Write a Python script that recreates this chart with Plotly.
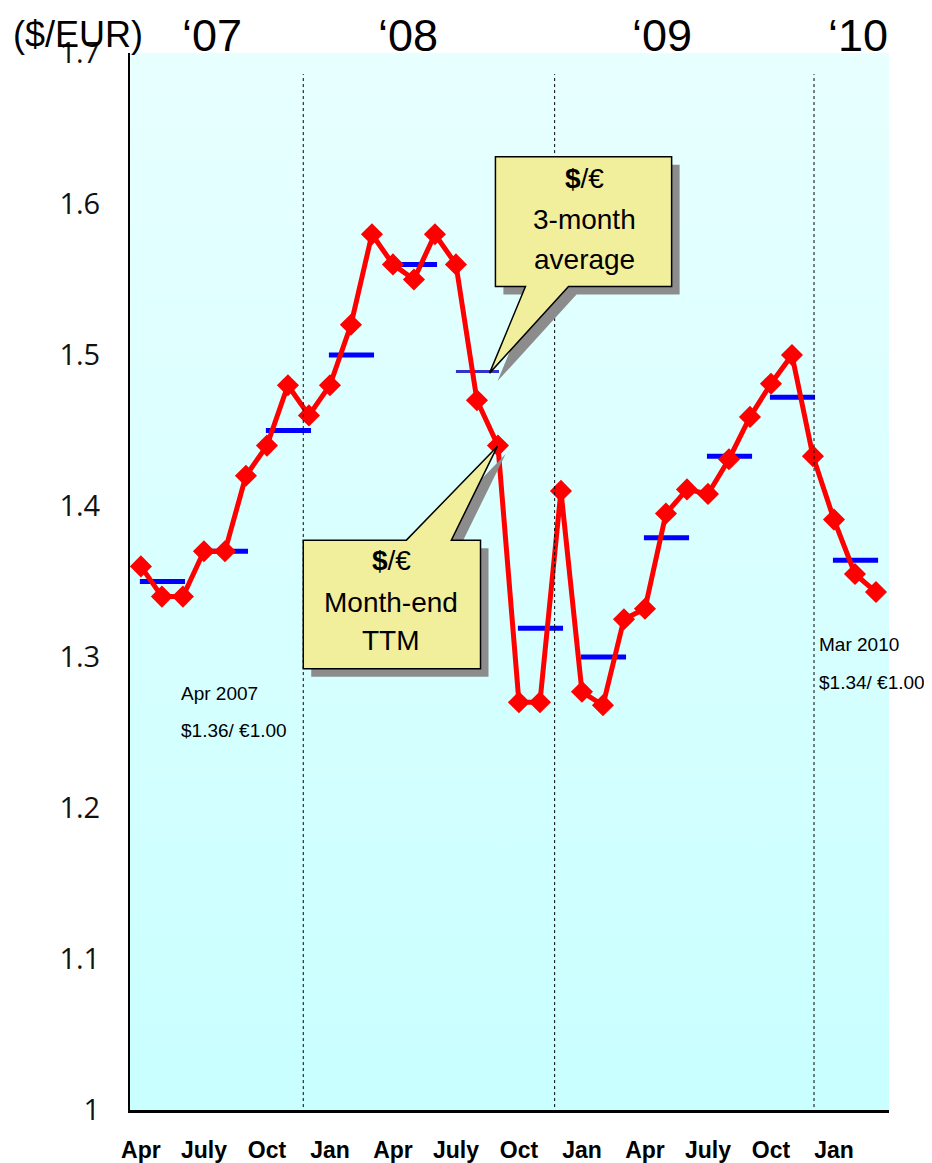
"""
USD/EUR 月末汇率与三个月平均 (Apr 2007 - Mar 2010)
"""

import plotly.graph_objects as go

# 月份（Apr 2007 起，共 36 个月）
months = ['Apr 07', 'May 07', 'Jun 07', 'Jul 07', 'Aug 07', 'Sep 07', 'Oct 07', 'Nov 07', 'Dec 07',
          'Jan 08', 'Feb 08', 'Mar 08', 'Apr 08', 'May 08', 'Jun 08', 'Jul 08', 'Aug 08', 'Sep 08',
          'Oct 08', 'Nov 08', 'Dec 08', 'Jan 09', 'Feb 09', 'Mar 09', 'Apr 09', 'May 09', 'Jun 09',
          'Jul 09', 'Aug 09', 'Sep 09', 'Oct 09', 'Nov 09', 'Dec 09', 'Jan 10', 'Feb 10', 'Mar 10']

# 月末汇率 ($/€)
month_end = [1.36, 1.34, 1.34, 1.37, 1.37, 1.42, 1.44, 1.48, 1.46,
             1.48, 1.52, 1.58, 1.56, 1.55, 1.58, 1.56, 1.47, 1.44,
             1.27, 1.27, 1.41, 1.277, 1.268, 1.325, 1.332, 1.395, 1.411,
             1.408, 1.431, 1.459, 1.481, 1.500, 1.433, 1.391, 1.355, 1.343]

# 三个月平均（每季度一个值）
avg_3m = [1.35, 1.37, 1.45, 1.50, 1.56, 1.489, 1.319, 1.30, 1.379, 1.433, 1.472, 1.364]

# x 轴刻度
tick_idx = [0, 3, 6, 9, 12, 15, 18, 21, 24, 27, 30, 33]
tick_text = ['Apr', 'July', 'Oct', 'Jan', 'Apr', 'July', 'Oct', 'Jan', 'Apr', 'July', 'Oct', 'Jan']

# 年份标签
years = ["‘07", "‘08", "‘09", "‘10"]
year_pos = [3.4, 12.7, 24.8, 34.15]
year_lines = [7.73, 19.7, 32.05]

X_RANGE = [-0.52, 35.62]
Y_RANGE = [1.0, 1.7]

SANS = 'Liberation Sans, Arial, sans-serif'

fig = go.Figure()

# 背景渐变
fig.add_trace(go.Scatter(
    x=[X_RANGE[0], X_RANGE[1], X_RANGE[1], X_RANGE[0], X_RANGE[0]],
    y=[Y_RANGE[0], Y_RANGE[0], Y_RANGE[1], Y_RANGE[1], Y_RANGE[0]],
    mode='lines', fill='toself', line_width=0,
    fillgradient=dict(type='vertical', start=Y_RANGE[0], stop=Y_RANGE[1],
                      colorscale=[[0, '#c9ffff'], [1, '#e8ffff']]),
    hoverinfo='skip', showlegend=False
))

# 三个月平均（蓝色横线）
bx, by = [], []
for k, v in enumerate(avg_3m):
    if k == 5:
        continue
    bx += [3 * k - 0.05, 3 * k + 2.1, None]
    by += [v, v, None]
fig.add_trace(go.Scatter(x=bx, y=by, mode='lines', line=dict(color='#0000ff', width=5),
                         hoverinfo='skip', showlegend=False))
fig.add_trace(go.Scatter(x=[15, 17.05], y=[avg_3m[5], avg_3m[5]], mode='lines',
                         line=dict(color='#3333cc', width=3), hoverinfo='skip', showlegend=False))

# 月末汇率
fig.add_trace(go.Scatter(
    x=list(range(len(months))), y=month_end, text=months,
    mode='lines+markers',
    line=dict(color='#ff0000', width=5),
    marker=dict(symbol='diamond', size=17, color='#ff0000'),
    showlegend=False
))

shapes = []
for xv in year_lines:
    shapes.append(dict(type='line', xref='x', yref='y', x0=xv, x1=xv, y0=0.994, y1=1.686,
                       line=dict(color='black', width=1, dash='dot'), layer='above'))


def poly(pts, dx=0.0, dy=0.0):
    return 'M ' + ' L '.join(f'{x + dx},{y + dy}' for x, y in pts) + ' Z'


# 标注框（数据坐标）
callout1 = [(16.88, 1.6313), (25.27, 1.6313), (25.27, 1.5453), (20.36, 1.5453),
            (16.6, 1.488), (18.31, 1.5453), (16.88, 1.5453)]
callout2 = [(7.73, 1.3774), (12.64, 1.3774), (16.98, 1.4396), (14.78, 1.3774),
            (16.17, 1.3774), (16.17, 1.2922), (7.73, 1.2922)]
SDX, SDY = 0.38, -0.0053
for pts in (callout1, callout2):
    shapes.append(dict(type='path', xref='x', yref='y', path=poly(pts, SDX, SDY),
                       fillcolor='#8c8c8c', line=dict(width=0), layer='above'))
    shapes.append(dict(type='path', xref='x', yref='y', path=poly(pts),
                       fillcolor='#f2ef9c', line=dict(color='black', width=1.5), layer='above'))

annotations = []
for t, xv in zip(years, year_pos):
    annotations.append(dict(text=t, x=xv, y=1.0, xref='x', yref='paper', yanchor='middle',
                            yshift=18, showarrow=False, font=dict(family=SANS, size=45, color='black')))
annotations.append(dict(text='($/EUR)', x=0.0, y=1.0, xref='paper', yref='paper', xanchor='left',
                        yanchor='middle', xshift=-119, yshift=19, showarrow=False,
                        font=dict(family=SANS, size=36, color='black')))

callout_font = dict(family=SANS, size=28, color='black')
for txt, xv, yv in [('<b>$</b>/€', 21.13, 1.6167), ('3-month', 21.13, 1.5896), ('average', 21.13, 1.5632),
                    ('<b>$</b>/€', 11.92, 1.3636), ('Month-end', 11.92, 1.3358), ('TTM', 11.92, 1.3107)]:
    annotations.append(dict(text=txt, x=xv, y=yv, xref='x', yref='y', showarrow=False, font=callout_font))

small_font = dict(family=SANS, size=19, color='black')
for txt, xv, yv in [('Apr 2007', 1.81, 1.2757), ('$1.36/ €1.00', 1.81, 1.2512),
                    ('Mar 2010', 32.2, 1.308), ('$1.34/ €1.00', 32.2, 1.283)]:
    annotations.append(dict(text=txt, x=xv, y=yv, xref='x', yref='y', xanchor='left',
                            showarrow=False, font=small_font))

# 页面自带 8px 边距：左/上各偏移 8px
fig.update_layout(
    width=916, height=1163,
    margin=dict(l=122, r=35, t=45, b=61, autoexpand=False),
    paper_bgcolor='white', plot_bgcolor='white',
    shapes=shapes, annotations=annotations,
    xaxis=dict(range=X_RANGE, tickvals=tick_idx, ticktext=tick_text, showgrid=False, zeroline=False,
               showline=True, linecolor='black', linewidth=3, ticks='', ticklabelstandoff=17,
               tickfont=dict(family=SANS, size=23, color='black', weight='bold'),
               tickangle=0, automargin=False),
    yaxis=dict(range=Y_RANGE, tickvals=[1, 1.1, 1.2, 1.3, 1.4, 1.5, 1.6, 1.7],
               ticktext=['1', '1.1', '1.2', '1.3', '1.4', '1.5', '1.6', '1.7'],
               showgrid=False, zeroline=False, showline=True, linecolor='black', linewidth=2,
               ticks='', ticklabelstandoff=22, automargin=False,
               tickfont=dict(family='Open Sans, sans-serif', size=29, color='#111')),
)

fig.write_html("out.html")
